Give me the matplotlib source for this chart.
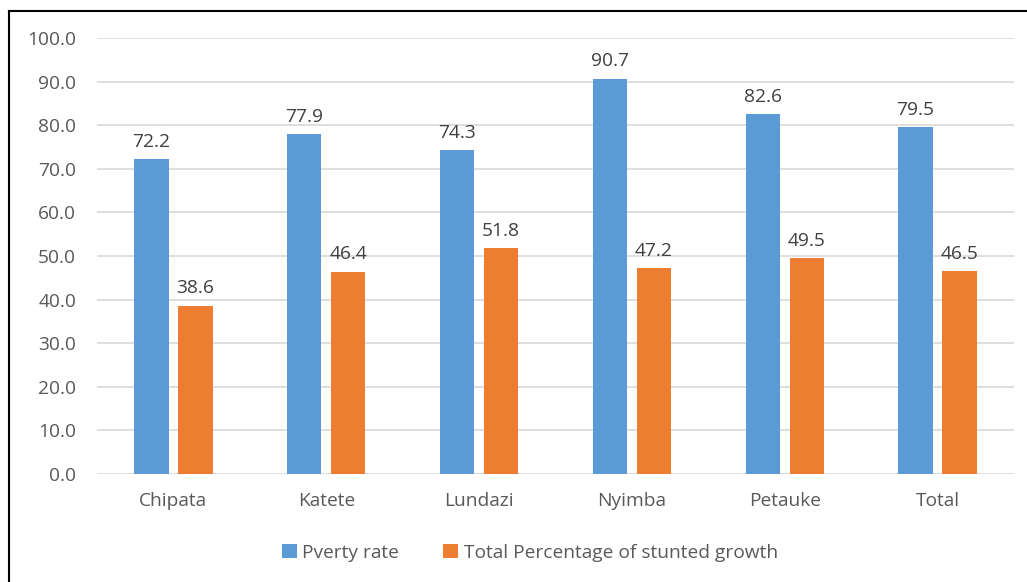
import numpy as np
import matplotlib.pyplot as plt
from matplotlib.lines import Line2D

plt.rcParams['font.family'] = ['Open Sans', 'DejaVu Sans']

# Datos
districts = ['Chipata', 'Katete', 'Lundazi', 'Nyimba', 'Petauke', 'Total']
poverty = [72.2, 77.9, 74.3, 90.7, 82.6, 79.5]
stunted = [38.6, 46.4, 51.8, 47.2, 49.5, 46.5]
series_names = ['Pverty rate', 'Total Percentage of stunted growth']

blue = '#5B9BD5'
orange = '#ED7D31'
txt = '#595959'
fs = 13.8

fig = plt.figure(figsize=(10.27, 5.82), dpi=100)
ax = fig.add_axes([97/1027, 1 - 474/582, 917/1027, 436/582])

x = np.arange(len(districts))
w = 0.225
off = 0.144
b1 = ax.bar(x - off, poverty, w, color=blue, label=series_names[0], zorder=3)
b2 = ax.bar(x + off, stunted, w, color=orange, label=series_names[1], zorder=3)

for bars in (b1, b2):
    for r in bars:
        ax.annotate('{:.1f}'.format(r.get_height()),
                    (r.get_x() + r.get_width()/2, r.get_height()),
                    xytext=(0, 6), textcoords='offset points',
                    ha='center', va='bottom', fontsize=fs, color='#404040')

ax.set_xlim(-0.5, len(districts) - 0.5)
ax.set_ylim(0, 100)
ax.set_yticks(np.arange(0, 101, 10))
ax.set_yticklabels(['{:.1f}'.format(v) for v in np.arange(0, 101, 10)])
ax.set_xticks(x)
ax.set_xticklabels(districts)
ax.tick_params(axis='both', length=0, labelsize=fs, labelcolor=txt)
ax.tick_params(axis='x', pad=13)
ax.tick_params(axis='y', pad=15)
ax.grid(axis='y', color='#D9D9D9', lw=1.2, zorder=0)
for s in ax.spines.values():
    s.set_visible(False)

fig.legend(handles=[b1, b2], loc='center', bbox_to_anchor=(530/1027, 1 - 553/582),
           ncol=2, frameon=False, fontsize=fs, labelcolor=txt,
           handlelength=0.75, handleheight=0.75, handletextpad=0.3, columnspacing=2.3)

# Marco negro
fig.add_artist(Line2D([9/1027, 9/1027], [0, 1 - 11/582], color='k', lw=1.5))
fig.add_artist(Line2D([9/1027, 1], [1 - 11/582, 1 - 11/582], color='k', lw=1.5))

fig.savefig('out.png', dpi=100)
